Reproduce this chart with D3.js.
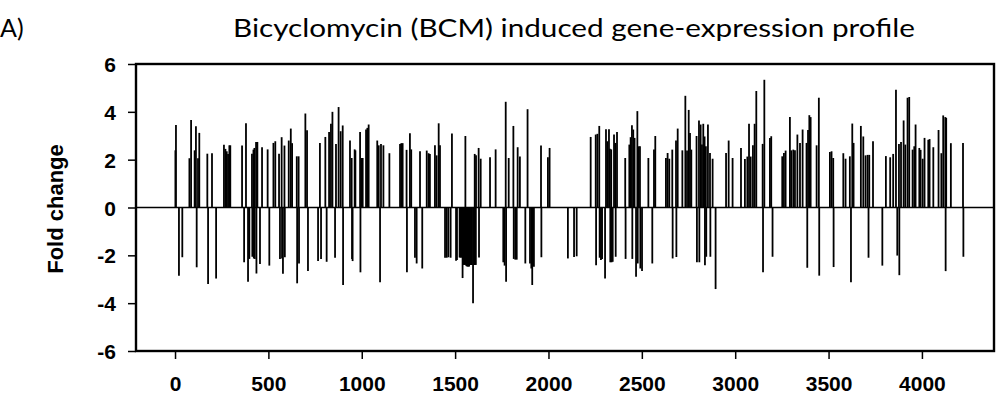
<!DOCTYPE html>
<html><head><meta charset="utf-8">
<script src="https://cdn.jsdelivr.net/npm/d3@7"></script>
<style>
html,body{margin:0;padding:0;background:#fff;}
svg{display:block;}
</style>
</head><body>
<svg id="chart" width="996" height="398"></svg>
<script>
// ---- data ----
const upPos = [2,5,77,86,105,112,123,130,173,198,262,270,277,284,291,296,359,380,412,420,425,434,441,466,496,527,537,557,571,586,609,620,627,652,662,698,707,776,805,825,835,843,862,876,
887,898,937,946,962,966,991,998,1005,1023,1030,1037,1083,1091,1103,1116,1148,1205,1212,1219,1240,1258,1265,1312,1348,1358,1365,1392,1401,1412,1419,1483,1555,1605,1612,1626,1637,1687,1717,1771,1787,1812,1835,1847,1888,1960,1997,2006,
2226,2253,2262,2272,2308,2315,2324,2329,2336,2351,2358,2367,2411,2433,2440,2447,2454,2461,2476,2483,2490,2535,2565,2572,2629,2638,2647,2663,2683,2692,2717,2733,2742,2751,2758,2765,2793,2806,2815,2822,2829,2836,2843,2854,2865,2879,2951,2965,2986,3031,3052,3065,3074,3083,3095,3104,3113,3147,3156,3186,3193,3252,3261,3270,3293,3300,3311,3320,3333,
3347,3361,3382,3390,3397,3404,3436,3448,3507,3516,3525,3579,3591,3614,3627,3634,3673,3686,3698,3709,3718,3738,3807,3830,3846,3861,3877,3888,3902,3911,3923,3932,3950,3959,3966,3986,3993,4004,4014,4034,4041,4061,4089,4104,4114,4125,4130,4155,4220];
const upFold = [2.39,3.45,2.06,3.66,2.39,3.4,2.06,3.12,2.25,2.27,2.62,2.45,2.35,2.24,2.6,2.6,2.59,3.52,2.25,2.42,2.49,2.74,2.74,2.52,2.43,2.7,2.77,2.25,2.94,2.59,2.8,3.3,2.69,2.14,2.14,3.93,3.23,2.7,2.95,3.16,3.5,4.0,2.66,4.2,
3.19,3.43,2.8,2.07,2.43,2.39,3.16,2.07,2.07,3.26,3.33,3.47,2.8,2.6,2.66,2.6,2.27,2.66,2.69,2.69,2.41,3.1,2.43,2.35,2.38,2.27,2.24,2.6,2.18,3.52,2.6,3.09,2.99,2.24,2.18,2.49,2.04,2.1,2.43,4.42,2.07,3.41,2.52,2.13,4.11,2.59,2.1,2.49,
2.95,3.05,3.08,3.41,3.27,2.77,3.27,2.46,2.43,3.05,2.7,3.16,2.07,2.63,2.94,3.44,3.26,2.91,4.03,2.56,2.56,2.07,2.42,2.99,2.07,2.28,2.04,2.42,2.8,3.3,2.39,4.67,2.38,4.08,3.12,2.42,2.99,3.64,3.47,2.63,3.5,2.97,2.56,3.47,2.28,2.04,2.28,2.8,2.07,2.49,2.03,2.13,3.5,2.13,2.6,3.5,4.87,2.66,5.34,2.91,2.98,2.14,2.28,2.38,3.78,2.39,2.42,2.39,3.05,
2.7,3.26,2.7,3.24,3.86,3.78,2.6,4.59,2.32,2.35,2.07,2.27,2.04,2.14,3.51,2.7,3.41,2.97,2.18,2.2,2.2,2.77,2.15,2.1,2.24,4.92,2.66,2.74,3.64,2.63,4.59,4.62,2.42,2.56,3.47,2.49,2.41,2.04,2.91,2.83,2.86,2.52,3.24,2.27,3.85,3.78,3.75,2.69,2.7];
const downPos = [21,39,116,177,220,370,391,398,414,422,427,436,455,505,562,573,578,588,654,664,712,766,782,812,857,
900,948,951,993,1098,1242,1285,1294,1324,1446,1455,1464,1476,1505,1510,1524,1528,1533,1540,1545,1550,1555,1560,1565,1570,1575,1580,1585,1590,1596,1601,1606,1611,1628,1758,1765,1773,1814,1822,1830,1876,1901,1908,1913,1922,1962,2104,2137,2151,
2255,2274,2281,2287,2303,2331,2338,2344,2360,2413,2449,2469,2478,2492,2501,2556,2665,2685,2795,2808,2838,2845,2867,2895,3149,3200,
3386,3450,3527,3620,3714,3788,3868,3879,4127,4222];
const downFold = [-2.85,-2.08,-2.5,-3.2,-2.97,-2.29,-3.1,-2.15,-2.06,-2.13,-2.15,-2.76,-2.36,-2.43,-2.15,-2.13,-2.77,-2.08,-3.17,-2.34,-2.66,-2.24,-2.15,-2.27,-2.1,
-3.24,-2.15,-2.24,-2.71,-3.13,-2.71,-2.1,-2.34,-2.55,-2.1,-2.1,-2.08,-2.1,-2.23,-2.2,-2.09,-2.09,-2.1,-2.95,-2.4,-2.4,-2.4,-2.45,-2.47,-2.47,-2.47,-2.4,-2.4,-2.4,-4.0,-2.4,-2.4,-2.4,-2.09,-2.29,-2.43,-3.1,-2.15,-2.18,-2.18,-2.34,-2.34,-2.55,-3.24,-2.48,-2.08,-2.13,-2.07,-2.04,
-2.41,-2.1,-2.2,-2.15,-2.97,-2.29,-2.29,-2.27,-2.06,-2.15,-2.15,-2.9,-2.34,-2.55,-2.66,-2.34,-2.13,-2.07,-2.29,-2.29,-2.41,-2.06,-2.06,-3.41,-2.71,-2.06,
-2.52,-2.85,-2.49,-3.13,-2.1,-2.43,-2.01,-2.83,-2.66,-2.06];
const xTicks = [0,500,1000,1500,2000,2500,3000,3500,4000];
const yTicks = [-6,-4,-2,0,2,4,6];
const titleText = "Bicyclomycin (BCM) induced gene-expression profile";
const panelLabel = "A)";
const yLabel = "Fold change";

// ---- drawing ----
const svg = d3.select("#chart");
const L = 136, R = 994, T = 64, B = 351;
const x = d3.scaleLinear().domain([-209, 4386]).range([L, R]);
const y = d3.scaleLinear().domain([-6, 6]).range([B, T]);

const bars = upPos.map((p,i)=>({p, v:upFold[i]})).concat(downPos.map((p,i)=>({p, v:downFold[i]})));

svg.append("g").selectAll("line").data(bars).join("line")
  .attr("x1", d=>x(d.p)).attr("x2", d=>x(d.p))
  .attr("y1", y(0)).attr("y2", d=>y(d.v))
  .attr("stroke", "#000").attr("stroke-width", 1.8);

// zero line
svg.append("line").attr("x1", L).attr("x2", R).attr("y1", y(0)).attr("y2", y(0))
  .attr("stroke", "#000").attr("stroke-width", 1.3);

// frame
svg.append("rect").attr("x", L).attr("y", T).attr("width", R-L).attr("height", B-T)
  .attr("fill", "none").attr("stroke", "#000").attr("stroke-width", 2.4);

const fmt = d => String(d);
const yAx = svg.append("g").attr("transform", `translate(${L},0)`)
  .call(d3.axisLeft(y).tickValues(yTicks).tickSize(8).tickPadding(12).tickFormat(fmt));
const xAx = svg.append("g").attr("transform", `translate(0,${B})`)
  .call(d3.axisBottom(x).tickValues(xTicks).tickSize(8).tickPadding(17).tickFormat(fmt));
[yAx, xAx].forEach(g=>{
  g.select(".domain").remove();
  g.selectAll(".tick line").attr("stroke", "#000").attr("stroke-width", 1.5);
  g.selectAll("text").attr("fill", "#000")
    .style("font-family", "'Liberation Sans', Arial, sans-serif")
    .style("font-weight", "bold").style("font-size", "21px");
});
yAx.selectAll("text").attr("dy", "0.36em");

svg.append("text").attr("transform", "translate(63,209) rotate(-90)")
  .attr("text-anchor", "middle")
  .style("font-family", "'Liberation Sans', Arial, sans-serif")
  .style("font-weight", "bold").style("font-size", "22px").text(yLabel);

svg.append("text").attr("x", 574).attr("y", 37).attr("text-anchor", "middle")
  .style("font-family", "Lato, 'Open Sans', sans-serif").style("font-size", "25px")
  .attr("textLength", 682).attr("lengthAdjust", "spacingAndGlyphs").text(titleText);
svg.append("text").attr("x", 0).attr("y", 37)
  .style("font-family", "Lato, 'Open Sans', sans-serif").style("font-size", "25px").text(panelLabel);
</script>
</body></html>
